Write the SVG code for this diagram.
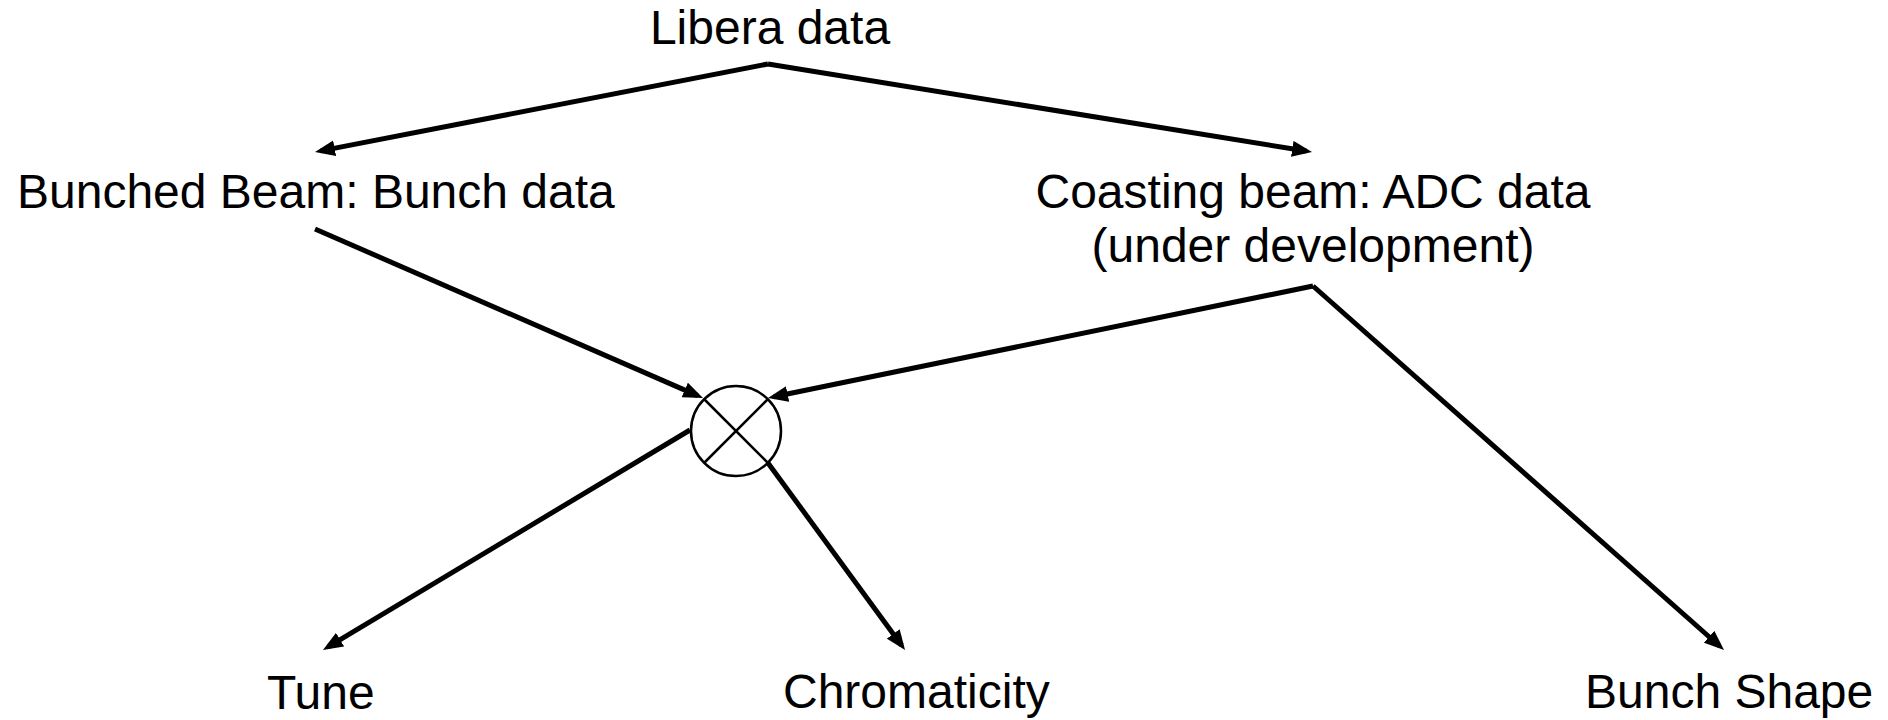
<svg xmlns="http://www.w3.org/2000/svg" width="1888" height="720" viewBox="0 0 1888 720">
  <style>
    .lbl { font-family: "Liberation Sans", Arial, sans-serif; font-size: 48px; fill: #000; }
    .conn { stroke: #000; stroke-width: 5; fill: none; marker-end: url(#arrow); }
    .thin { stroke: #000; stroke-width: 2.5; fill: none; }
  </style>
  <defs>
    <marker id="arrow" viewBox="0 0 20 16" refX="14" refY="8" markerWidth="20" markerHeight="16" markerUnits="userSpaceOnUse" orient="auto">
      <path d="M0,0 L20,8 L0,16 z" fill="#000"/>
    </marker>
  </defs>
  <rect width="1888" height="720" fill="#fff"/>
  <g id="connectors">
    <line class="conn" x1="768" y1="64" x2="320.9" y2="150.9"/>
    <line class="conn" x1="768" y1="64" x2="1306.1" y2="151"/>
    <line class="conn" x1="315" y1="229" x2="697.5" y2="395.6"/>
    <line class="conn" x1="1313" y1="286" x2="773.9" y2="396.8"/>
    <line class="conn" x1="1313" y1="286" x2="1719.5" y2="646"/>
    <line class="conn" x1="690" y1="430" x2="328.1" y2="646.9"/>
    <line class="conn" x1="768" y1="463" x2="901.5" y2="645.2"/>
  </g>
  <g id="libera"><text class="lbl" x="770" y="44" text-anchor="middle">Libera data</text></g>
  <g id="bunched"><text class="lbl" x="17" y="208">Bunched Beam: Bunch data</text></g>
  <g id="coasting">
    <text class="lbl" x="1313" y="208" text-anchor="middle">Coasting beam: ADC data</text>
    <text class="lbl" x="1313" y="262" text-anchor="middle">(under development)</text>
  </g>
  <g id="mixer">
    <circle class="thin" cx="736" cy="431" r="45"/>
    <line class="thin" x1="704" y1="399" x2="768" y2="463"/>
    <line class="thin" x1="768" y1="399" x2="704" y2="463"/>
  </g>
  <g id="tune"><text class="lbl" x="267" y="709">Tune</text></g>
  <g id="chromaticity"><text class="lbl" x="783" y="708">Chromaticity</text></g>
  <g id="bunchshape"><text class="lbl" x="1585" y="708">Bunch Shape</text></g>
</svg>
